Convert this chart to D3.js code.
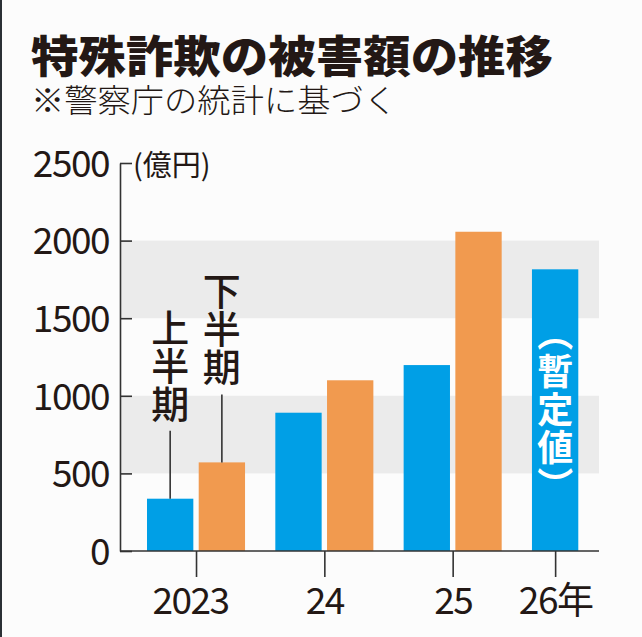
<!DOCTYPE html>
<html>
<head>
<meta charset="utf-8">
<script src="https://cdn.jsdelivr.net/npm/d3@7"></script>
<style>
  body { margin: 0; background: #fcfcfc; }
  text { font-family: "Noto Sans CJK JP", "Noto Sans", sans-serif; fill: #231815; }
  .vert { writing-mode: vertical-rl; }
</style>
</head>
<body>
<div class="chart"></div>
<script>
// data (億円)
const years = ["2023", "24", "25", "26"];
const yearLabels = ["2023", "24", "25", "26年"];
const halves = ["上半期", "下半期"];
const firstHalf = [337, 891, 1198, 1815];
const secondHalf = [571, 1100, 2057, null];
const yTicks = [0, 500, 1000, 1500, 2000, 2500];
const shadedBands = [[500, 1000], [1500, 2000]];

const width = 642, height = 637;
const colors = {"上半期": "#009fe6", "下半期": "#f19a4f"};

let svg = d3.select(".chart")
  .append("svg")
    .attr("width", width)
    .attr("height", height);

svg.append("rect").attr("width", width).attr("height", height).attr("fill", "#fcfcfc");
// dark edge on the left of the scan
svg.append("rect").attr("width", 2).attr("height", height).attr("fill", "#2b3035");

// title + note
svg.append("text")
    .attr("x", 31).attr("y", 54)
    .attr("dominant-baseline", "central")
    .attr("textLength", 522).attr("lengthAdjust", "spacingAndGlyphs")
    .style("font-size", "44px").style("font-weight", 900)
    .text("特殊詐欺の被害額の推移");
svg.append("text")
    .attr("x", 31).attr("y", 98)
    .attr("dominant-baseline", "central")
    .attr("textLength", 366).attr("lengthAdjust", "spacingAndGlyphs")
    .style("font-size", "32px").style("font-weight", 300)
    .text("※警察庁の統計に基づく");

// scales
let left = 120, right = 599;
let y = d3.scaleLinear().domain([0, 2500]).range([551, 163]);
let x0 = d3.scaleBand().domain(years).range([147, 630]).paddingInner(0.236).paddingOuter(0);
let x1 = d3.scaleBand().domain(halves).range([0, x0.bandwidth()]).paddingInner(0.104);

// grey bands
svg.selectAll(".band")
  .data(shadedBands)
  .enter()
  .append("rect")
    .attr("class", "band")
    .attr("x", left)
    .attr("y", d => y(d[1]))
    .attr("width", right - left)
    .attr("height", d => y(d[0]) - y(d[1]))
    .attr("fill", "#ebebeb");

// bars
let bars = [];
years.forEach((yr, i) => {
  bars.push({year: yr, half: "上半期", value: firstHalf[i]});
  if (secondHalf[i] != null) bars.push({year: yr, half: "下半期", value: secondHalf[i]});
});

svg.selectAll(".bar")
  .data(bars)
  .enter()
  .append("rect")
    .attr("class", "bar")
    .attr("x", d => x0(d.year) + x1(d.half))
    .attr("y", d => y(d.value))
    .attr("width", x1.bandwidth())
    .attr("height", d => y(0) - y(d.value))
    .attr("fill", d => colors[d.half]);

// y axis
let yAxis = svg.append("g")
    .attr("transform", `translate(${left},0)`)
    .call(d3.axisLeft(y).tickValues(yTicks).tickFormat(d3.format("d"))
      .tickSizeInner(-12).tickSizeOuter(0).tickPadding(11));
yAxis.select(".domain").attr("stroke", "#333").attr("stroke-width", 1.6);
yAxis.selectAll(".tick line").attr("stroke", "#333").attr("stroke-width", 1.6);
yAxis.selectAll(".tick text")
    .attr("fill", "#231815")
    .style("font-family", "'Noto Sans CJK JP'")
    .style("font-size", "37px")
    .style("letter-spacing", "-1.5px")
    .attr("dy", "0.36em");

svg.append("text")
    .attr("x", 133).attr("y", y(2500))
    .attr("dominant-baseline", "central")
    .style("font-size", "29px")
    .text("(億円)");

// x axis: ticks at the middle of each year's bars
let tickX = years.map(yr => d3.mean(bars.filter(b => b.year === yr), b => x0(b.year) + x1(b.half) + x1.bandwidth() / 2));
let xPos = d3.scaleOrdinal().domain(years).range(tickX);

let xAxis = svg.append("g")
    .attr("transform", `translate(0,${y(0)})`)
    .call(d3.axisBottom(xPos).tickSizeInner(26).tickSizeOuter(0).tickFormat((d, i) => yearLabels[i]));
xAxis.select(".domain").remove();
xAxis.selectAll(".tick line").attr("stroke", "#333").attr("stroke-width", 1.6);
xAxis.selectAll(".tick text")
    .attr("fill", "#231815")
    .attr("y", 63).attr("dy", 0)
    .attr("dx", (d, i) => i === 0 ? -6 : 0)
    .style("font-family", "'Noto Sans CJK JP'")
    .style("font-size", "37px")
    .style("letter-spacing", "-1.5px");

svg.append("line")
    .attr("x1", left).attr("x2", right)
    .attr("y1", y(0)).attr("y2", y(0))
    .attr("stroke", "#333").attr("stroke-width", 1.6);

// 上半期 / 下半期 call-outs on the 2023 bars, vertical writing
let first = bars.filter(b => b.year === years[0]);
first.forEach(b => {
  let cx = x0(b.year) + x1(b.half) + x1.bandwidth() / 2;
  let top = y(b.value);
  svg.append("line")
      .attr("x1", cx).attr("x2", cx)
      .attr("y1", top).attr("y2", top - 68)
      .attr("stroke", "#333").attr("stroke-width", 1.6);
  svg.append("text")
      .attr("class", "vert")
      .attr("x", cx)
      .attr("y", top - 68 - 8 - 115 / 2)
      .attr("text-anchor", "middle")
      .style("font-size", "38px").style("font-weight", 500)
      .text(b.half);
});

// (暫定値) inside the last bar
let last = bars[bars.length - 1];
let lx = x0(last.year) + x1(last.half) + x1.bandwidth() / 2;
svg.append("text")
    .attr("class", "vert")
    .attr("x", lx)
    .attr("y", y(last.value / 2))
    .attr("text-anchor", "middle")
    .style("font-size", "36px").style("font-weight", 700)
    .style("letter-spacing", "2px")
    .style("fill", "#fff")
    .text("（暫定値）");
</script>
</body>
</html>
